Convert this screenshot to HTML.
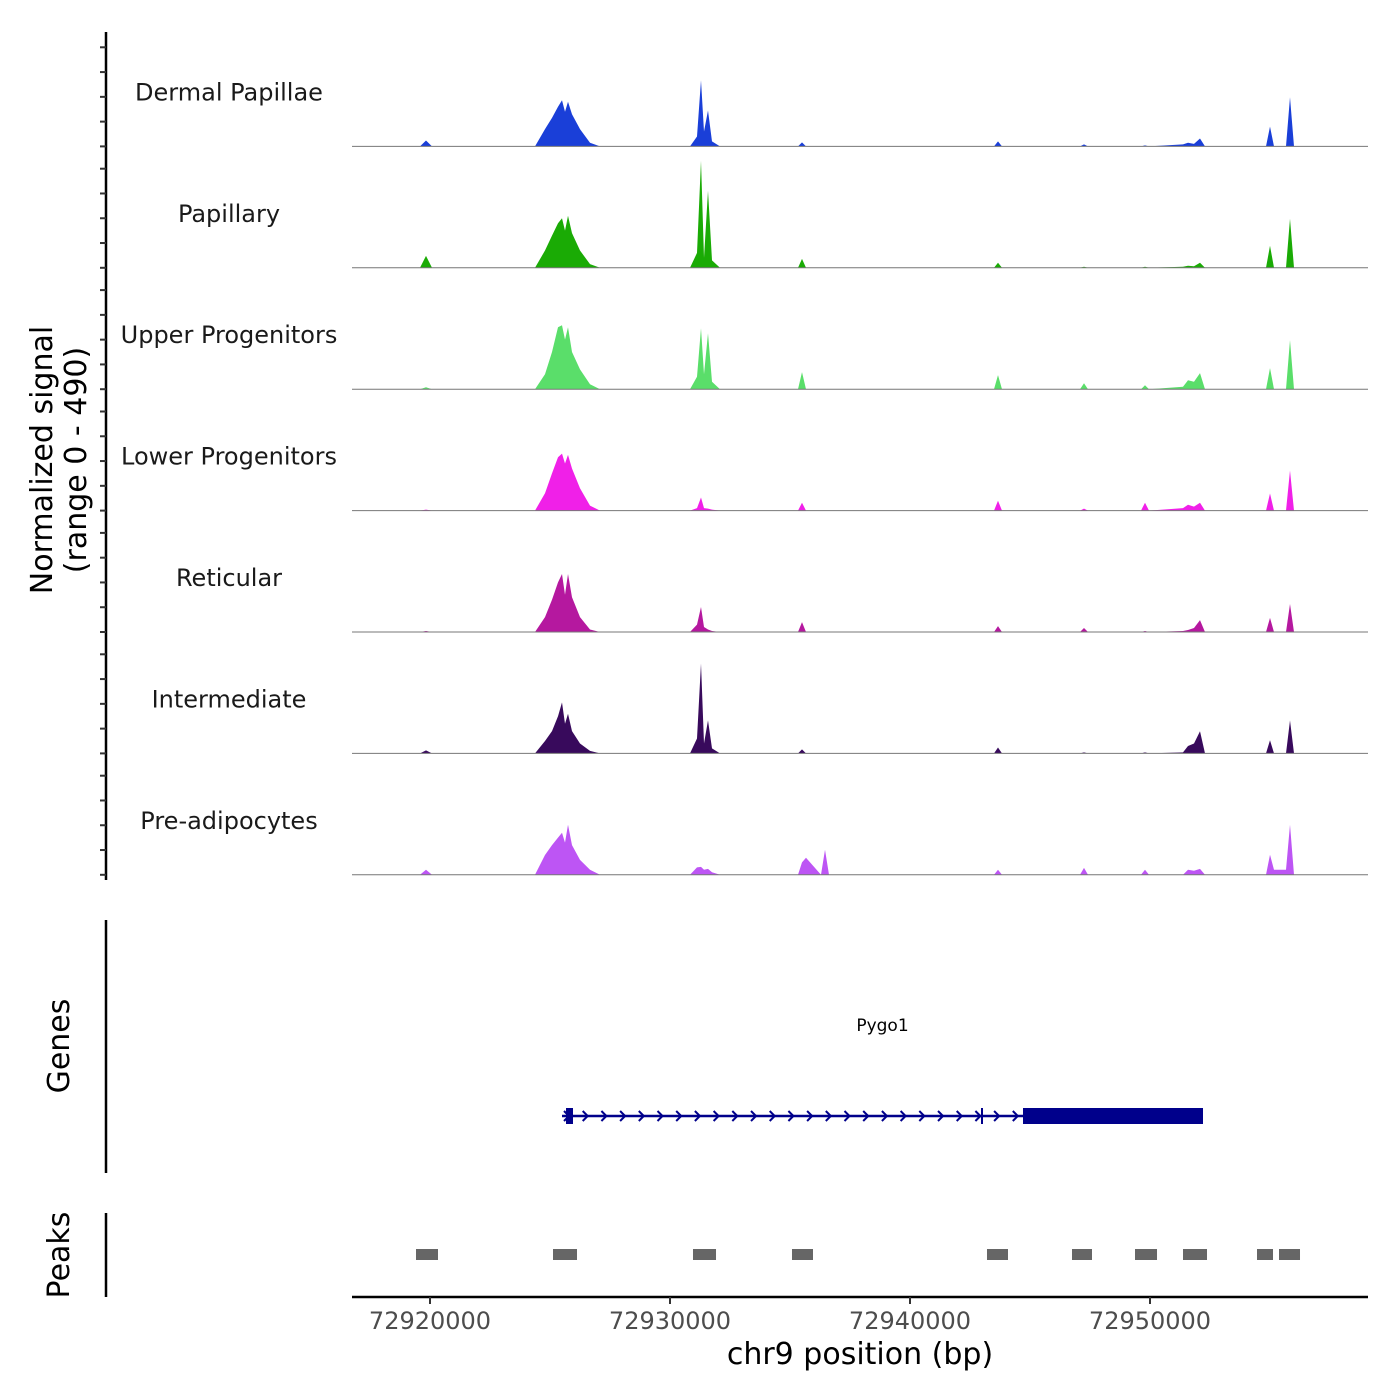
<!DOCTYPE html>
<html><head><meta charset="utf-8"><style>
body{margin:0;background:#fff;}
svg{display:block;font-family:"DejaVu Sans","Liberation Sans",sans-serif;}
</style></head><body>
<svg id="chart" width="1400" height="1400" viewBox="0 0 1400 1400" xmlns="http://www.w3.org/2000/svg">
<rect width="1400" height="1400" fill="#fff"/>
<text transform="translate(52,460) rotate(-90)" text-anchor="middle" font-size="30" fill="#000">Normalized signal</text>
<text transform="translate(86,460) rotate(-90)" text-anchor="middle" font-size="30" fill="#000">(range 0 - 490)</text>
<line x1="106" y1="32" x2="106" y2="880" stroke="#000" stroke-width="2.5"/>
<text transform="translate(69,1046) rotate(-90)" text-anchor="middle" font-size="30">Genes</text>
<line x1="106" y1="920" x2="106" y2="1173" stroke="#000" stroke-width="2.5"/>
<text transform="translate(69,1255) rotate(-90)" text-anchor="middle" font-size="30">Peaks</text>
<line x1="106" y1="1213" x2="106" y2="1297" stroke="#000" stroke-width="2.5"/>
<g id="tracks"></g><g id="genes"></g><g id="peaks"></g><g id="xaxis"></g>
</svg>
<script>
const positions=[72916750,72919583,72919833,72920083,72924375,72924792,72925083,72925333,72925500,72925625,72925750,72925917,72926250,72926667,72927083,72930833,72931125,72931292,72931417,72931583,72931750,72932083,72935333,72935500,72935667,72936292,72936458,72936625,72943500,72943667,72943833,72947083,72947250,72947417,72949625,72949792,72949958,72951375,72951583,72951833,72952083,72952292,72954833,72955000,72955167,72955667,72955833,72956000,72959083];
const trackNames=["Dermal Papillae","Papillary","Upper Progenitors","Lower Progenitors","Reticular","Intermediate","Pre-adipocytes"];
const trackColors=["#1a3fd8","#1aab05","#5ade6a","#f020e8","#b5189f","#380a5c","#bd55f4"];
const dermalValues=[0,0,24,0,0,70,115,160,186,140,180,130,70,15,0,0,40,267,60,145,20,0,0,16,0,0,0,0,0,20,0,0,8,0,0,4,0,8,15,10,32,0,0,80,0,0,198,0,0];
const papillaryValues=[0,0,48,0,0,70,130,180,200,150,210,140,70,15,0,0,60,432,40,311,30,0,0,36,0,0,0,0,0,20,0,0,4,0,0,4,0,4,8,6,20,0,0,89,0,0,198,0,0];
const upperValues=[0,0,8,0,0,60,150,250,258,200,250,150,80,20,0,0,50,246,60,226,30,0,0,69,0,0,0,0,0,57,0,0,24,0,0,16,0,10,36,30,65,0,0,85,0,0,198,0,0];
const lowerValues=[0,0,4,0,0,70,150,215,230,190,225,170,90,20,0,0,10,53,10,8,4,0,0,32,0,0,0,0,0,40,0,0,8,0,0,32,0,10,24,16,32,0,0,69,0,0,162,0,0];
const reticularValues=[0,0,4,0,0,60,130,200,234,150,234,140,60,10,0,0,30,101,20,10,4,0,0,40,0,0,0,0,0,24,0,0,16,0,0,4,0,4,8,16,48,0,0,57,0,0,113,0,0];
const intermediateValues=[0,0,12,0,0,50,90,150,206,120,160,90,40,10,0,0,60,363,40,133,20,0,0,16,0,0,0,0,0,24,0,0,4,0,0,4,0,4,30,40,89,0,0,53,0,0,133,0,0];
const preadipoValues=[0,0,20,0,0,80,120,150,170,130,202,120,60,20,0,0,30,32,20,24,10,0,0,50,69,0,101,0,0,20,0,0,28,0,0,20,0,0,20,16,24,0,0,81,20,20,202,0,0];
const yMax=490;
const xTicks=[72920000,72930000,72940000,72950000];
const xTickLabels=["72920000","72930000","72940000","72950000"];
const peakStarts=[72919417,72925125,72930958,72935083,72943208,72946750,72949375,72951375,72954458,72955375];
const peakEnds=[72920333,72926125,72931917,72935958,72944083,72947583,72950292,72952375,72955125,72956250];
const geneName="Pygo1";
const geneStart=72925500, geneEnd=72952208, cdsStart=72944708, exon1Start=72925667, exon1End=72925958, intronTick=72943000;

const NS="http://www.w3.org/2000/svg";
const allValues=[dermalValues,papillaryValues,upperValues,lowerValues,reticularValues,intermediateValues,preadipoValues];
const X0=352,X1=1368,BP0=72916750,BP1=72959083;
const xs=bp=>X0+(bp-BP0)/(BP1-BP0)*(X1-X0);
const trackTop=25, trackH=121.4;
function mk(tag,attrs,parent){const e=document.createElementNS(NS,tag);for(const k in attrs)e.setAttribute(k,attrs[k]);parent.appendChild(e);return e;}
const tg=document.getElementById('tracks');
allValues.forEach((vals,t)=>{
  const base=trackTop+trackH*(t+1);
  const ys=v=>base-v/yMax*trackH;
  let d=`M${xs(positions[0])},${base}`;
  vals.forEach((v,i)=>{d+=` L${xs(positions[i]).toFixed(1)},${ys(v).toFixed(1)}`;});
  d+=` L${xs(positions[positions.length-1])},${base} Z`;
  const p=mk('path',{d:d,fill:trackColors[t]},tg);
  
  
  const bl=mk('line',{x1:X0,x2:X1,y1:base,y2:base,stroke:'#777','stroke-width':1},tg);
  
  
  const lb=mk('text',{x:229,y:base-46,'text-anchor':'middle','font-size':24,fill:'#1a1a1a'},tg);
  lb.textContent=trackNames[t];
  
  
  for(let k=0;k<5;k++){
    const ty=base-k*100/yMax*trackH;
    const tk=mk('line',{x1:100,x2:106,y1:ty,y2:ty,stroke:'#333','stroke-width':2},tg);
    
    
  }
});
const gg=document.getElementById('genes');
const gy=1116;
const gl=mk('text',{x:xs((geneStart+geneEnd)/2),y:1031,'text-anchor':'middle','font-size':17,fill:'#000'},gg);
gl.textContent=geneName;


const gline=mk('line',{x1:xs(geneStart),x2:xs(geneEnd),y1:gy,y2:gy,stroke:'#00008b','stroke-width':2.5},gg);


for(let x=xs(geneStart)+2;x<xs(cdsStart)-10;x+=18.7){
  const a=mk('path',{d:`M${x},${gy-5} L${x+5},${gy} L${x},${gy+5}`,fill:'none',stroke:'#00008b','stroke-width':2},gg);
  
  
}
const it=mk('line',{x1:xs(intronTick),x2:xs(intronTick),y1:gy-8,y2:gy+8,stroke:'#00008b','stroke-width':2},gg);


const e1=mk('rect',{x:xs(exon1Start),y:gy-8,width:xs(exon1End)-xs(exon1Start),height:16,fill:'#00008b'},gg);


const cds=mk('rect',{x:xs(cdsStart),y:gy-8,width:xs(geneEnd)-xs(cdsStart),height:16,fill:'#00008b'},gg);


const pg=document.getElementById('peaks');
peakStarts.forEach((s,i)=>{
  const r=mk('rect',{x:xs(s),y:1249,width:xs(peakEnds[i])-xs(s),height:11,fill:'#666'},pg);
  
  
});
const xg=document.getElementById('xaxis');
const xl=mk('line',{x1:X0,x2:X1,y1:1297,y2:1297,stroke:'#000','stroke-width':2.5},xg);


xTicks.forEach((v,i)=>{
  const tk=mk('line',{x1:xs(v),x2:xs(v),y1:1297,y2:1304,stroke:'#333','stroke-width':2},xg);
  
  
  const tl=mk('text',{x:xs(v),y:1329,'text-anchor':'middle','font-size':24,fill:'#4d4d4d'},xg);
  tl.textContent=xTickLabels[i];
  
  
});
const xt=mk('text',{x:860,y:1364,'text-anchor':'middle','font-size':30,fill:'#000'},xg);
xt.textContent="chr9 position (bp)";


</script>
</body></html>
